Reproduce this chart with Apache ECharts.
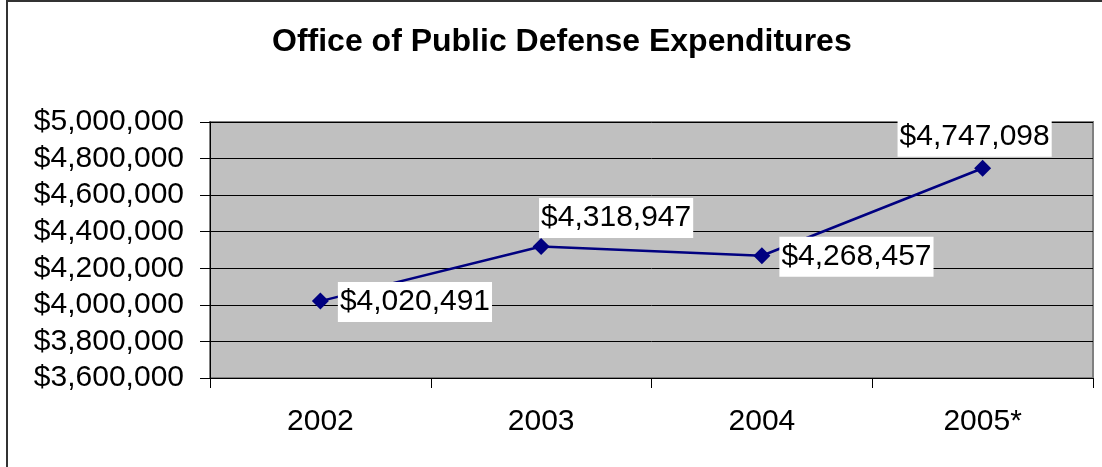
<!DOCTYPE html>
<html>
<head>
<meta charset="utf-8">
<script src="https://cdn.jsdelivr.net/npm/echarts@6/dist/echarts.min.js"></script>
<style>
  html, body { margin: 0; padding: 0; background: #fff; }
  #wrap { position: relative; width: 1102px; height: 467px; }
  #chart { width: 1102px; height: 467px; }
  #frame { position: absolute; left: 6px; top: 0; width: 1102px; height: 467px;
           border-left: 2px solid #333; border-top: 2px solid #333; pointer-events: none; }
</style>
</head>
<body>
<div id="wrap">
  <div id="chart"></div>
  <div id="frame"></div>
</div>
<script>
var years = ['2002', '2003', '2004', '2005*'];
var expenditures = [4020491, 4318947, 4268457, 4747098];
var yMin = 3600000;
var yMax = 5000000;
var yStep = 200000;

function money(v) {
	return '$' + Number(v).toLocaleString('en-US');
}

// where each data label sits next to its marker
var labelSpots = [
	{ position: 'right', distance: 9, offset: [0, 1] },
	{ position: 'top', distance: 0, offset: [75, 0] },
	{ position: 'right', distance: 9, offset: [0, 1] },
	{ position: 'top', distance: 3, offset: [-8, 0] }
];

var points = expenditures.map(function (v, i) {
	return { value: v, label: labelSpots[i] };
});

var chart = echarts.init(document.getElementById('chart'));

var option = {
	animation: false,
	title: {
		text: 'Office of Public Defense Expenditures',
		left: 267,
		top: 21,
		textStyle: {
			fontFamily: 'Liberation Sans, Arial, sans-serif',
			fontWeight: 'bold',
			fontSize: 32,
			color: '#000'
		}
	},
	grid: {
		left: 210,
		right: 9,
		top: 122,
		bottom: 89,
		show: true,
		backgroundColor: '#c0c0c0',
		borderColor: '#808080',
		borderWidth: 2
	},
	xAxis: {
		type: 'category',
		data: years,
		boundaryGap: true,
		axisLine: { lineStyle: { color: '#000', width: 1 } },
		axisTick: { show: true, length: 10, lineStyle: { color: '#000' } },
		axisLabel: {
			margin: 29,
			fontFamily: 'Liberation Sans, Arial, sans-serif',
			fontSize: 30,
			color: '#000'
		}
	},
	yAxis: {
		type: 'value',
		min: yMin,
		max: yMax,
		interval: yStep,
		axisLine: { show: true, lineStyle: { color: '#000', width: 1 } },
		axisTick: { show: true, length: 10, lineStyle: { color: '#000' } },
		splitLine: { show: true, lineStyle: { color: '#000', width: 1 } },
		axisLabel: {
			margin: 26,
			formatter: money,
			fontFamily: 'Liberation Sans, Arial, sans-serif',
			fontSize: 30,
			color: '#000'
		}
	},
	series: [{
		name: 'Expenditures',
		type: 'line',
		data: points,
		symbol: 'diamond',
		symbolSize: 17,
		color: '#000080',
		lineStyle: { color: '#000080', width: 2.5 },
		itemStyle: { color: '#000080' },
		label: {
			show: true,
			formatter: function (p) { return money(p.value); },
			fontFamily: 'Liberation Sans, Arial, sans-serif',
			fontSize: 30,
			lineHeight: 32,
			color: '#000',
			backgroundColor: '#fff',
			padding: [4, 2, 4, 2]
		}
	}]
};

chart.setOption(option);
window.addEventListener('resize', function () {
	chart.resize();
});
</script>
</body>
</html>
